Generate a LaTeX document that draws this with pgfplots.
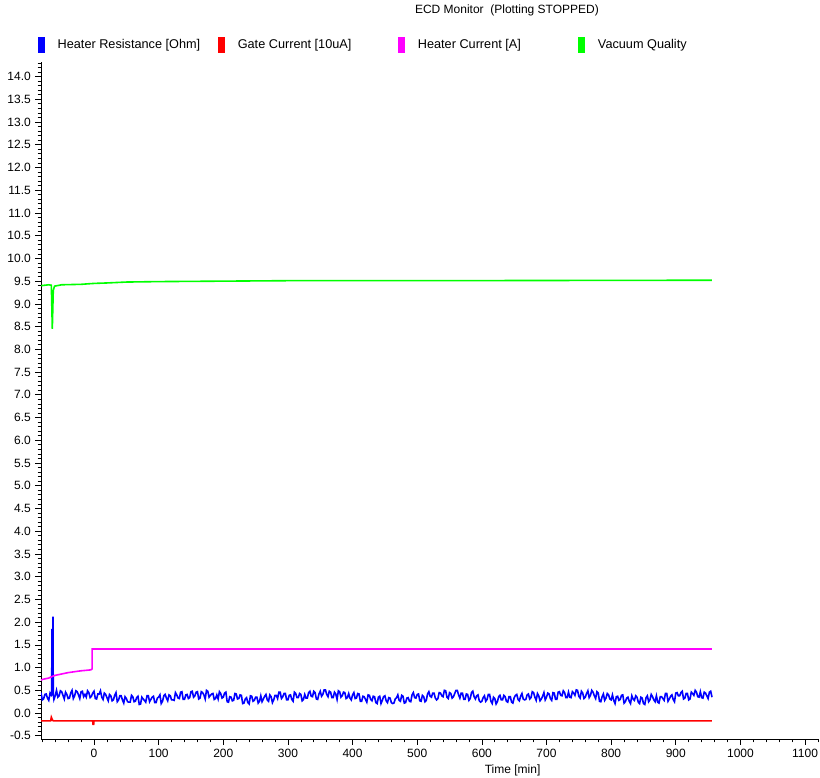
\documentclass[border=0pt]{standalone}
\usepackage{pgfplots}
\pgfplotsset{compat=1.18}
\usepackage{fontspec}
\setmainfont{Liberation Sans}
\definecolor{cblue}{RGB}{0,0,255}
\definecolor{cred}{RGB}{255,0,0}
\definecolor{cmag}{RGB}{255,0,255}
\definecolor{cgreen}{RGB}{0,255,0}
\begin{document}
\fontsize{12}{14}\selectfont
\begin{tikzpicture}
\path[use as bounding box] (0,0) rectangle (820pt,778pt);
\begin{axis}[
  at={(41pt,39pt)}, anchor=south west,
  width=777pt, height=677pt, scale only axis,
  xmin=-82, xmax=1120, ymin=-0.57, ymax=14.32,
  axis lines*=left,
  axis line style={black, line width=0.8pt},
  tick align=outside,
  major tick length=6pt, minor tick length=3.5pt,
  every tick/.style={black, line width=0.7pt},
  xtick={0,100,...,1100},
  minor xtick={-80,-60,...,1120},
  ytick={-0.5,0,...,14.0},
  minor ytick={-0.5,-0.4,...,14.3},
  yticklabel style={/pgf/number format/.cd, fixed, fixed zerofill, precision=1},
  xticklabel style={/pgf/number format/.cd, fixed, precision=0, 1000 sep={}},
  /pgf/number format/assume math mode=true,
  tick label style={font=\fontsize{12}{14}\selectfont},
  xlabel={Time [min]},
  xlabel style={at={(axis description cs:0.607,-0.047)}, anchor=center, font=\fontsize{12}{14}\selectfont},
  title={ECD Monitor\ \ (Plotting STOPPED)},
  title style={at={(axis description cs:0.5997,1.068)}, anchor=center, font=\fontsize{12}{14}\selectfont},
  legend columns=4,
  legend image code/.code={\fill[#1] (0pt,-7pt) rectangle (5pt,7pt);},
  legend style={at={(axis description cs:-0.004,1.025)}, anchor=west, draw=none, fill=none,
    font=\fontsize{12.7}{14}\selectfont, inner sep=0pt,
    /tikz/every odd column/.append style={column sep=11pt}},
]
% Heater Resistance [Ohm]
\addplot[color=cblue, line width=1.6pt] table {
x y
-82 0.45
-80 0.29
-78 0.31
-76 0.41
-74 0.42
-72 0.33
-70 0.28
-68 0.44
-66 0.39
-65.5 0.40
-65 1.85
-64.5 0.45
-63.5 2.12
-63 0.42
-62 0.30
-60 0.38
-58 0.50
-56 0.35
-54 0.38
-52 0.49
-50 0.47
-48 0.39
-46 0.31
-44 0.46
-42 0.41
-40 0.32
-38 0.33
-36 0.44
-34 0.50
-32 0.32
-30 0.38
-28 0.49
-26 0.47
-24 0.40
-22 0.32
-20 0.47
-18 0.48
-16 0.36
-14 0.41
-12 0.35
-10 0.49
-8 0.45
-6 0.34
-4 0.37
-2 0.44
0 0.48
2 0.32
4 0.31
6 0.42
8 0.42
10 0.49
12 0.35
14 0.30
16 0.44
18 0.41
20 0.34
22 0.27
24 0.41
26 0.38
28 0.27
30 0.29
32 0.39
34 0.45
36 0.25
38 0.29
40 0.38
42 0.38
44 0.29
46 0.22
48 0.36
50 0.32
52 0.25
54 0.24
56 0.24
58 0.39
60 0.36
62 0.25
64 0.26
66 0.34
68 0.37
70 0.19
72 0.20
74 0.35
76 0.31
78 0.28
80 0.24
82 0.38
84 0.38
86 0.25
88 0.30
90 0.35
92 0.37
94 0.23
96 0.23
98 0.33
100 0.35
102 0.40
104 0.21
106 0.26
108 0.38
110 0.41
112 0.33
114 0.27
116 0.40
118 0.38
120 0.29
122 0.29
124 0.28
126 0.45
128 0.40
130 0.33
132 0.32
134 0.46
136 0.47
138 0.30
140 0.30
142 0.40
144 0.41
146 0.32
148 0.34
150 0.47
152 0.48
154 0.35
156 0.38
158 0.46
160 0.47
162 0.31
164 0.33
166 0.47
168 0.45
170 0.40
172 0.31
174 0.50
176 0.48
178 0.35
180 0.39
182 0.42
184 0.43
186 0.30
188 0.32
190 0.40
192 0.31
194 0.47
196 0.43
198 0.33
200 0.35
202 0.44
204 0.46
206 0.25
208 0.24
210 0.36
212 0.35
214 0.27
216 0.28
218 0.43
220 0.42
222 0.31
224 0.32
226 0.40
228 0.39
230 0.21
232 0.22
234 0.31
236 0.34
238 0.23
240 0.20
242 0.38
244 0.37
246 0.26
248 0.28
250 0.35
252 0.35
254 0.22
256 0.26
258 0.38
260 0.25
262 0.31
264 0.37
266 0.41
268 0.29
270 0.26
272 0.40
274 0.36
276 0.23
278 0.29
280 0.39
282 0.39
284 0.32
286 0.46
288 0.46
290 0.32
292 0.36
294 0.43
296 0.43
298 0.29
300 0.29
302 0.39
304 0.40
306 0.30
308 0.26
310 0.46
312 0.43
314 0.34
316 0.34
318 0.43
320 0.41
322 0.27
324 0.30
326 0.41
328 0.33
330 0.33
332 0.45
334 0.48
336 0.37
338 0.36
340 0.48
342 0.45
344 0.31
346 0.30
348 0.42
350 0.48
352 0.37
354 0.41
356 0.51
358 0.51
360 0.41
362 0.36
364 0.48
366 0.46
368 0.34
370 0.34
372 0.46
374 0.42
376 0.30
378 0.49
380 0.47
382 0.35
384 0.38
386 0.46
388 0.45
390 0.32
392 0.34
394 0.43
396 0.33
398 0.29
400 0.40
402 0.45
404 0.32
406 0.33
408 0.43
410 0.42
412 0.26
414 0.26
416 0.37
418 0.36
420 0.30
422 0.24
424 0.40
426 0.39
428 0.30
430 0.27
432 0.37
434 0.36
436 0.23
438 0.21
440 0.35
442 0.37
444 0.21
446 0.28
448 0.36
450 0.38
452 0.27
454 0.23
456 0.34
458 0.33
460 0.23
462 0.21
464 0.22
466 0.31
468 0.34
470 0.40
472 0.28
474 0.26
476 0.39
478 0.37
480 0.22
482 0.23
484 0.33
486 0.34
488 0.26
490 0.25
492 0.40
494 0.45
496 0.34
498 0.33
500 0.41
502 0.42
504 0.27
506 0.26
508 0.39
510 0.36
512 0.25
514 0.28
516 0.42
518 0.47
520 0.37
522 0.35
524 0.44
526 0.44
528 0.33
530 0.29
532 0.32
534 0.45
536 0.44
538 0.38
540 0.36
542 0.50
544 0.49
546 0.35
548 0.32
550 0.45
552 0.43
554 0.33
556 0.36
558 0.43
560 0.50
562 0.50
564 0.40
566 0.33
568 0.44
570 0.44
572 0.30
574 0.30
576 0.42
578 0.41
580 0.28
582 0.32
584 0.45
586 0.48
588 0.36
590 0.31
592 0.38
594 0.40
596 0.27
598 0.24
600 0.26
602 0.34
604 0.38
606 0.26
608 0.30
610 0.41
612 0.41
614 0.26
616 0.21
618 0.35
620 0.32
622 0.20
624 0.25
626 0.36
628 0.39
630 0.29
632 0.29
634 0.39
636 0.36
638 0.26
640 0.24
642 0.36
644 0.36
646 0.24
648 0.22
650 0.34
652 0.39
654 0.41
656 0.30
658 0.27
660 0.37
662 0.43
664 0.31
666 0.29
668 0.30
670 0.40
672 0.42
674 0.31
676 0.34
678 0.47
680 0.45
682 0.35
684 0.28
686 0.43
688 0.38
690 0.27
692 0.31
694 0.37
696 0.45
698 0.29
700 0.35
702 0.44
704 0.42
706 0.32
708 0.28
710 0.45
712 0.44
714 0.30
716 0.30
718 0.46
720 0.47
722 0.39
724 0.38
726 0.49
728 0.45
730 0.34
732 0.34
734 0.46
736 0.35
738 0.34
740 0.47
742 0.44
744 0.39
746 0.51
748 0.50
750 0.37
752 0.33
754 0.48
756 0.44
758 0.32
760 0.35
762 0.43
764 0.49
766 0.34
768 0.39
770 0.50
772 0.46
774 0.38
776 0.32
778 0.47
780 0.44
782 0.26
784 0.25
786 0.36
788 0.42
790 0.28
792 0.33
794 0.43
796 0.40
798 0.31
800 0.29
802 0.40
804 0.28
806 0.21
808 0.36
810 0.37
812 0.28
814 0.30
816 0.39
818 0.40
820 0.22
822 0.25
824 0.33
826 0.35
828 0.26
830 0.21
832 0.38
834 0.31
836 0.28
838 0.38
840 0.35
842 0.24
844 0.21
846 0.35
848 0.33
850 0.21
852 0.19
854 0.34
856 0.38
858 0.25
860 0.29
862 0.41
864 0.36
866 0.29
868 0.25
870 0.38
872 0.24
874 0.22
876 0.36
878 0.36
880 0.32
882 0.28
884 0.43
886 0.43
888 0.26
890 0.31
892 0.37
894 0.40
896 0.30
898 0.25
900 0.44
902 0.45
904 0.38
906 0.38
908 0.45
910 0.48
912 0.31
914 0.33
916 0.43
918 0.43
920 0.29
922 0.31
924 0.46
926 0.43
928 0.39
930 0.50
932 0.46
934 0.36
936 0.35
938 0.47
940 0.34
942 0.33
944 0.46
946 0.44
948 0.38
950 0.32
952 0.46
954 0.48
956 0.35
};
\addlegendentry{\makebox[158.5pt][l]{Heater Resistance [Ohm]}}
% Gate Current [10uA]
\addplot[color=cred, line width=1.6pt] table {
x y
-82 -0.17
-67 -0.17
-66 -0.09
-64 -0.16
-63 -0.17
-2 -0.17
-1.5 -0.25
-0.5 -0.25
0 -0.17
956 -0.17
};
\addlegendentry{\makebox[158.5pt][l]{Gate Current [10uA]}}
% Heater Current [A]
\addplot[color=cmag, line width=1.6pt] table {
x y
-82 0.72
-80 0.74
-70 0.77
-64 0.81
-60 0.83
-40 0.89
-20 0.93
-5 0.95
-3 0.97
-3 1.41
956 1.41
};
\addlegendentry{\makebox[158.5pt][l]{Heater Current [A]}}
% Vacuum Quality
\addplot[color=cgreen, line width=1.6pt] table {
x y
-82 9.40
-70 9.42
-66 9.41
-64.5 8.45
-63 9.30
-61 9.39
-50 9.42
-20 9.43
0 9.45
20 9.46
50 9.48
100 9.49
200 9.50
300 9.51
500 9.51
956 9.52
};
\addlegendentry{Vacuum Quality}
\end{axis}
\end{tikzpicture}
\end{document}
